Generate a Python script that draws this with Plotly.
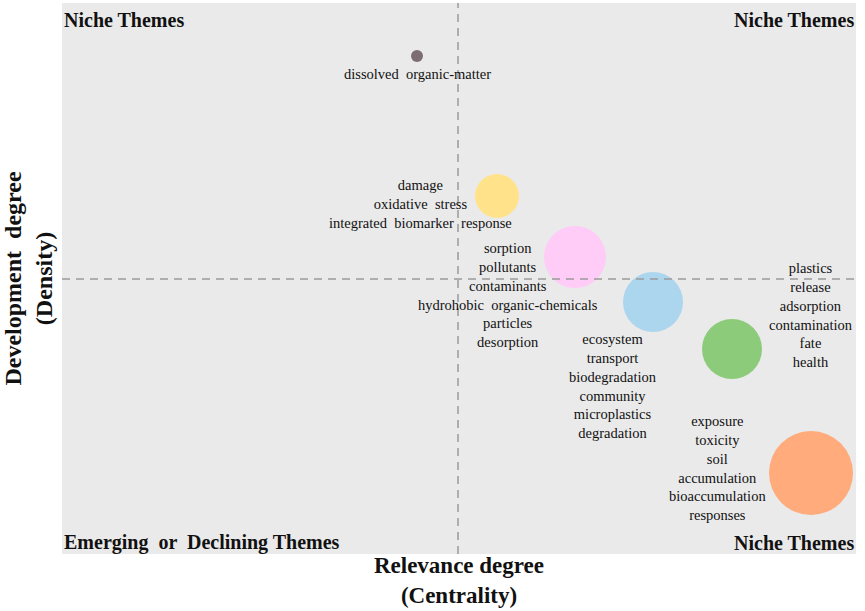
import plotly.graph_objects as go

# ---- data ----
themes = ["dissolved organic-matter", "damage", "sorption", "ecosystem", "plastics", "exposure"]
centrality = [-0.41, 0.39, 1.17, 1.95, 2.74, 3.53]
density = [2.23, 0.83, 0.22, -0.23, -0.70, -1.94]
theme_size = [12, 44, 62, 60, 60, 84]
colors = ["#7c6c74", "#ffe28a", "#ffcbf7", "#acd5ee", "#8ccb79", "#ffab7b"]

keyword_groups = [
    ["dissolved  organic-matter"],
    ["damage", "oxidative  stress", "integrated  biomarker  response"],
    ["sorption", "pollutants", "contaminants", "hydrohobic  organic-chemicals", "particles", "desorption"],
    ["ecosystem", "transport", "biodegradation", "community", "microplastics", "degradation"],
    ["plastics", "release", "adsorption", "contamination", "fate", "health"],
    ["exposure", "toxicity", "soil", "accumulation", "bioaccumulation", "responses"],
]
# label block centres (data coordinates)
label_x = [-0.41, -0.38, 0.50, 1.55, 3.53, 2.59]
label_y = [2.05, 0.75, -0.16, -1.065, -0.355, -1.885]

quadrant_labels = ["Niche Themes", "Niche Themes", "Emerging  or  Declining Themes", "Niche Themes"]

x_range = [-3.96, 3.98]
y_range = [-2.75, 2.76]

FONT = "Liberation Serif, Times New Roman, serif"

fig = go.Figure()
fig.add_trace(go.Scatter(
    x=centrality, y=density, mode="markers",
    marker=dict(size=theme_size, sizemode="diameter", color=colors, line=dict(width=0), opacity=1),
    text=themes, hoverinfo="text", showlegend=False,
))

for xs, ys, words in zip(label_x, label_y, keyword_groups):
    fig.add_annotation(x=xs, y=ys, xref="x", yref="y", text="<br>".join(words),
                       showarrow=False, xanchor="center", yanchor="middle", align="center",
                       font=dict(family=FONT, size=14.5, color="#111111"))

# quadrant dividers
fig.add_shape(type="line", xref="x", yref="paper", x0=0, x1=0, y0=0, y1=1,
              line=dict(color="#9a9a9a", width=1.5, dash="8px,6px"))
fig.add_shape(type="line", xref="paper", yref="y", x0=0, x1=1, y0=0, y1=0,
              line=dict(color="#9a9a9a", width=1.5, dash="8px,6px"))

qfont = dict(family=FONT, size=20, color="#111111")
fig.add_annotation(x=0, y=1, xref="paper", yref="paper", text="<b>%s</b>" % quadrant_labels[0],
                   showarrow=False, xanchor="left", yanchor="top", yshift=-4, font=qfont)
fig.add_annotation(x=1, y=1, xref="paper", yref="paper", text="<b>%s</b>" % quadrant_labels[1],
                   showarrow=False, xanchor="right", yanchor="top", yshift=-4, font=qfont)
fig.add_annotation(x=0, y=0, xref="paper", yref="paper", text="<b>%s</b>" % quadrant_labels[2],
                   showarrow=False, xanchor="left", yanchor="bottom", yshift=-2, font=qfont)
fig.add_annotation(x=1, y=0, xref="paper", yref="paper", text="<b>%s</b>" % quadrant_labels[3],
                   showarrow=False, xanchor="right", yanchor="bottom", yshift=-2, font=qfont)

fig.update_layout(
    width=865, height=611,
    margin=dict(l=62, r=9, t=3, b=57),
    paper_bgcolor="white", plot_bgcolor="#eaeaea",
    xaxis=dict(range=x_range, showgrid=False, zeroline=False, showticklabels=False, ticks="",
               title=dict(text="<b>Relevance degree<br>(Centrality)</b>", standoff=2,
                          font=dict(family=FONT, size=23, color="#111111"))),
    yaxis=dict(range=y_range, showgrid=False, zeroline=False, showticklabels=False, ticks="",
               title=dict(text="<b>Development  degree<br>(Density)</b>", standoff=2,
                          font=dict(family=FONT, size=24, color="#111111"))),
)

fig.write_html("out.html", config={"displayModeBar": False},
               post_script="document.body.style.margin='0';document.body.style.overflow='hidden';")
